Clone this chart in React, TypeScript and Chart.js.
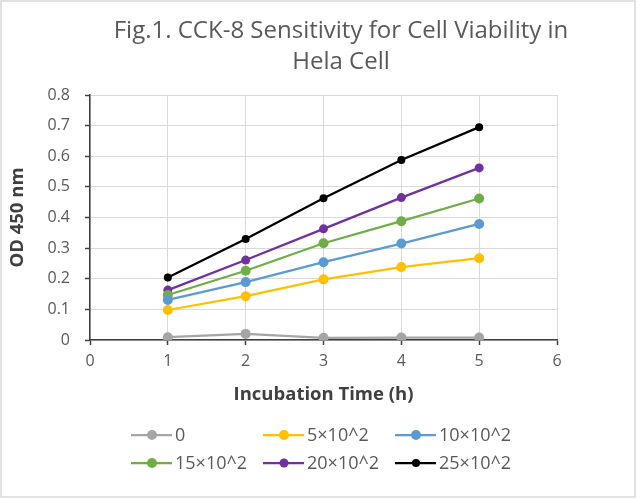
import { useEffect, useRef } from 'react';
import { Chart, registerables } from 'chart.js';

Chart.register(...registerables);

// Incubation time (h)
const hours = [1, 2, 3, 4, 5];

// Legend labels (cell count per well)
const seriesNames = ['0', '5×10^2', '10×10^2', '15×10^2', '20×10^2', '25×10^2'];

// OD 450 nm readings per cell density
const od0 = [0.009, 0.02, 0.007, 0.008, 0.008];
const od500 = [0.098, 0.143, 0.198, 0.238, 0.267];
const od1000 = [0.131, 0.189, 0.254, 0.315, 0.379];
const od1500 = [0.147, 0.226, 0.316, 0.388, 0.462];
const od2000 = [0.163, 0.261, 0.363, 0.465, 0.562];
const od2500 = [0.204, 0.33, 0.463, 0.588, 0.695];

const seriesValues = [od0, od500, od1000, od1500, od2000, od2500];
const seriesColors = ['#A5A5A5', '#FFC000', '#5B9BD5', '#70AD47', '#7030A0', '#000000'];
const markerRadius = [5, 5, 5, 5, 4.5, 4];

const titleLines = ['Fig.1. CCK-8 Sensitivity for Cell Viability in', 'Hela Cell'];
const xAxisTitle = 'Incubation Time (h)';
const yAxisTitle = 'OD 450 nm';

const FONT = '"Open Sans", Lato, sans-serif';
const TEXT = '#595959';
const DARK = '#404040';

const decorPlugin = {
  id: 'decor',
  beforeDraw(chart: any) {
    const { ctx, width, height } = chart;
    ctx.save();
    ctx.fillStyle = '#ffffff';
    ctx.fillRect(0, 0, width, height);
    ctx.restore();
  },
  afterDraw(chart: any) {
    const { ctx } = chart;
    ctx.save();
    // outer frame
    ctx.strokeStyle = '#d9d9d9';
    ctx.lineWidth = 1.5;
    ctx.strokeRect(1, 1, 634, 496);

    // title
    ctx.fillStyle = TEXT;
    ctx.font = `24px ${FONT}`;
    ctx.textAlign = 'center';
    ctx.textBaseline = 'alphabetic';
    titleLines.forEach((line, i) => ctx.fillText(line, 341, 38 + i * 31));

    // legend: 3 columns x 2 rows
    const colX = [131, 263, 395];
    const rowY = [435, 463];
    ctx.font = `18px ${FONT}`;
    ctx.textAlign = 'left';
    ctx.textBaseline = 'middle';
    chart.data.datasets.forEach((ds: any, i: number) => {
      const x = colX[i % 3];
      const y = rowY[Math.floor(i / 3)];
      ctx.strokeStyle = ds.borderColor;
      ctx.lineWidth = 2.25;
      ctx.beginPath();
      ctx.moveTo(x, y);
      ctx.lineTo(x + 41, y);
      ctx.stroke();
      ctx.fillStyle = ds.backgroundColor;
      ctx.beginPath();
      ctx.arc(x + 21, y, ds.pointRadius, 0, Math.PI * 2);
      ctx.fill();
      ctx.fillStyle = TEXT;
      ctx.fillText(ds.label, x + 44, y + 1);
    });
    ctx.restore();
  },
};

export default function App() {
  const canvasRef = useRef<HTMLCanvasElement | null>(null);

  useEffect(() => {
    const canvas = canvasRef.current;
    if (!canvas) return;
    const chart = new Chart(canvas, {
      type: 'line',
      data: {
        datasets: seriesNames.map((name, i) => ({
          label: name,
          data: hours.map((h, j) => ({ x: h, y: seriesValues[i][j] })),
          borderColor: seriesColors[i],
          backgroundColor: seriesColors[i],
          pointBackgroundColor: seriesColors[i],
          pointBorderColor: seriesColors[i],
          pointRadius: markerRadius[i],
          pointBorderWidth: 0,
          borderWidth: 2.25,
          tension: 0,
          fill: false,
        })),
      },
      options: {
        responsive: false,
        animation: false,
        layout: { padding: { top: 95, left: 0, right: 83, bottom: 70 } },
        plugins: {
          legend: { display: false },
          title: { display: false },
          tooltip: { enabled: false },
        },
        scales: {
          x: {
            type: 'linear',
            min: 0,
            max: 6,
            afterFit: (s: any) => {
              s.height = 90;
            },
            ticks: { stepSize: 1, color: TEXT, font: { family: FONT, size: 16 }, padding: 7 },
            grid: { color: '#d9d9d9', lineWidth: 1, tickLength: 5, tickColor: DARK, tickWidth: 1.5 },
            border: { color: DARK, width: 1.5 },
            title: {
              display: true,
              text: xAxisTitle,
              color: DARK,
              font: { family: FONT, size: 18.5, weight: 'bold' },
              padding: { top: 0, bottom: 24 },
            },
          },
          y: {
            type: 'linear',
            min: 0,
            max: 0.8,
            afterFit: (s: any) => {
              s.width = 90;
            },
            ticks: {
              stepSize: 0.1,
              color: TEXT,
              font: { family: FONT, size: 16 },
              padding: 15,
              callback: (v: any) => (Number(v) === 0 ? '0' : Number(v).toFixed(1)),
            },
            grid: { color: '#d9d9d9', lineWidth: 1, tickLength: 5, tickColor: DARK, tickWidth: 1.5 },
            border: { color: DARK, width: 1.5 },
            title: {
              display: true,
              text: yAxisTitle,
              color: DARK,
              font: { family: FONT, size: 18.5, weight: 'bold' },
              padding: { top: 7, bottom: 0 },
            },
          },
        },
      },
      plugins: [decorPlugin],
    });
    return () => chart.destroy();
  }, []);

  return (
    <div style={{ position: 'absolute', left: 0, top: 0, width: 640, height: 500 }}>
      <canvas ref={canvasRef} width={640} height={500} />
    </div>
  );
}
